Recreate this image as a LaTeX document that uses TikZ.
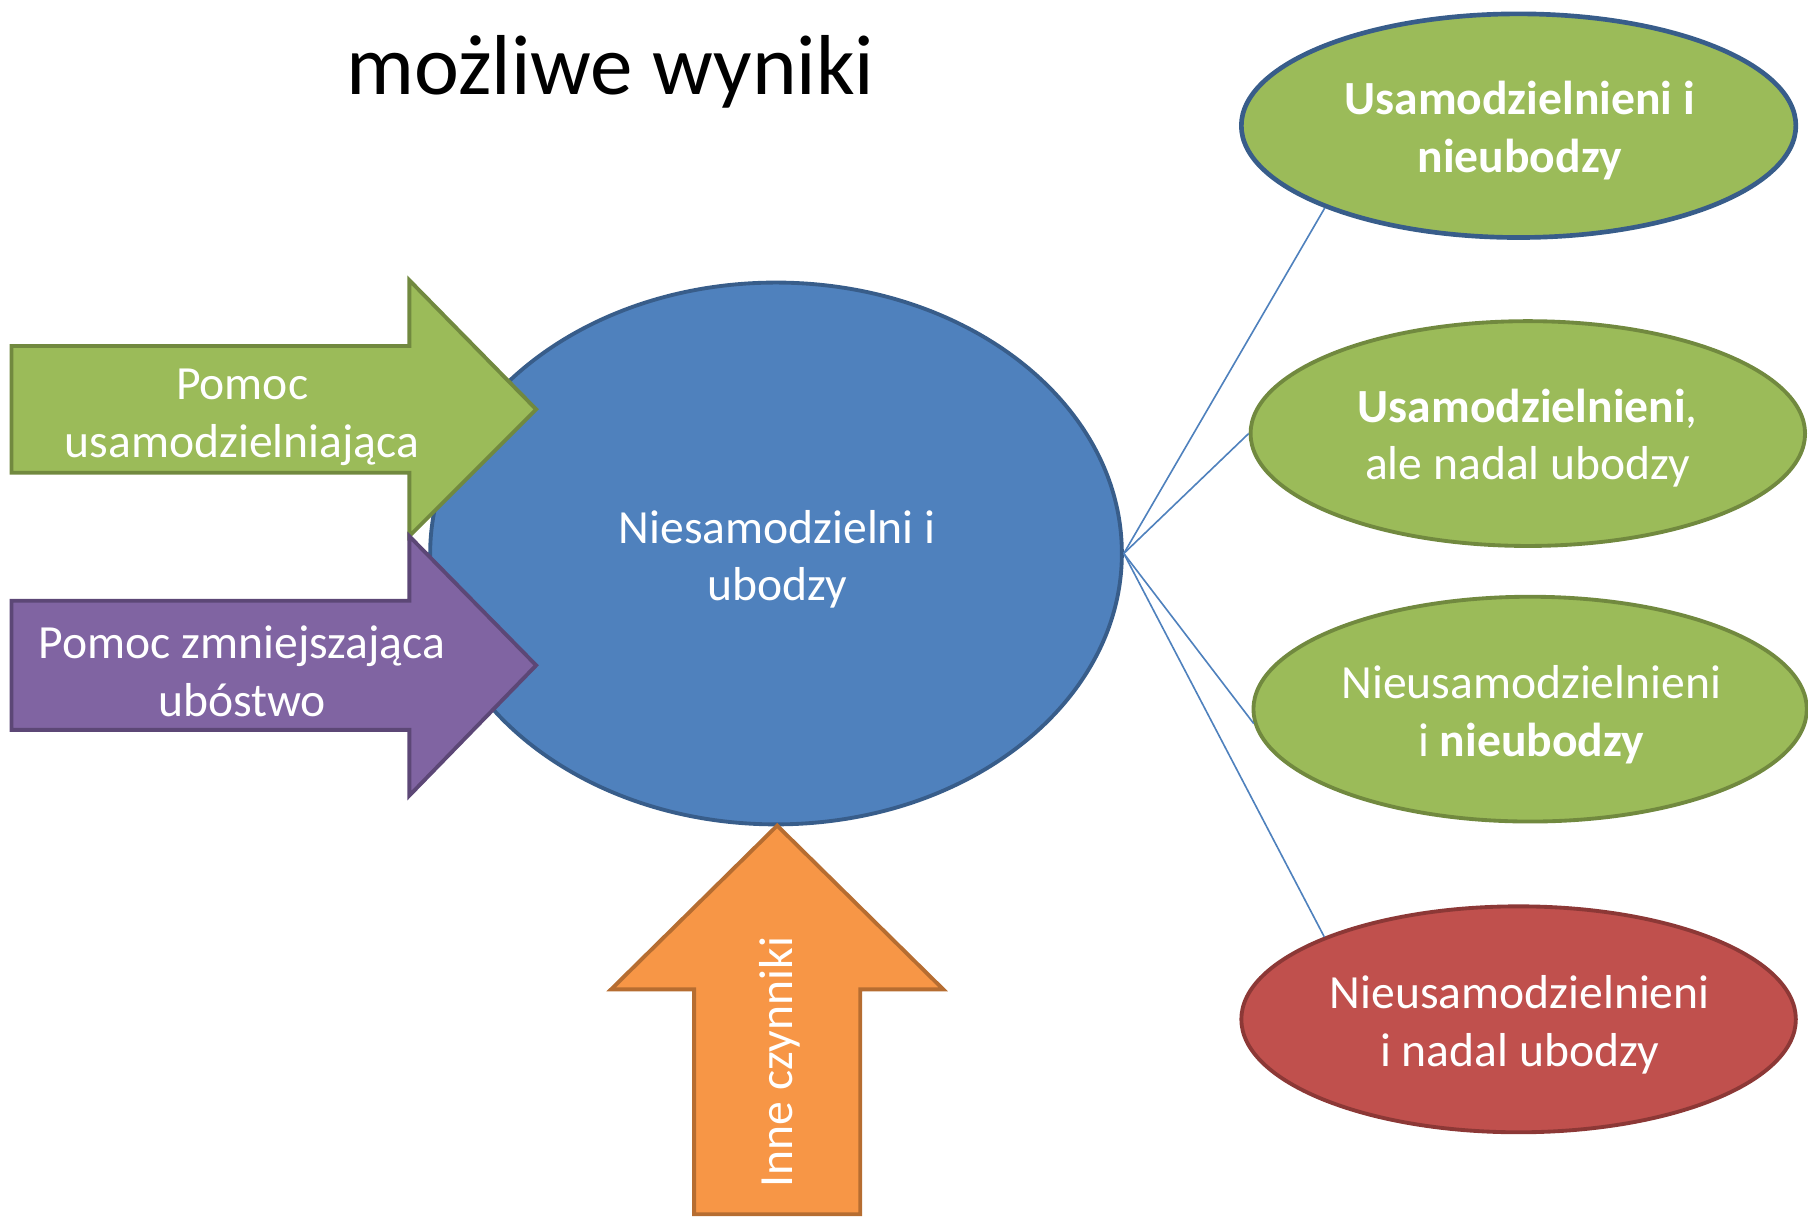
\documentclass[tikz,border=0pt]{standalone}
\usepackage{fontspec}
\setmainfont{Carlito}
\usetikzlibrary{shapes.geometric}
\definecolor{gfill}{HTML}{9BBB59}
\definecolor{gline}{HTML}{71893F}
\definecolor{bfill}{HTML}{4F81BD}
\definecolor{bline}{HTML}{385D8A}
\definecolor{pfill}{HTML}{8064A2}
\definecolor{pline}{HTML}{5C4776}
\definecolor{ofill}{HTML}{F79646}
\definecolor{oline}{HTML}{B66D31}
\definecolor{rfill}{HTML}{C0504D}
\definecolor{rline}{HTML}{8C3836}
\tikzset{
  bodytext/.style={text=white, align=center, font=\fontsize{23.5}{28.5}\selectfont, inner sep=0pt},
  oval/.style={ellipse, draw, line width=1.9pt, inner sep=0pt},
  arrowshape/.style={line width=1.9pt, line join=miter},
  link/.style={draw=bfill, line width=0.8pt}
}
\begin{document}
\begin{tikzpicture}[x=0.02cm, y=-0.02cm]
\useasboundingbox (0,0) rectangle (1568,1055);
% title
\node[anchor=base west, inner sep=0pt, font=\fontsize{42}{50}\selectfont] (title) at (300,82) {możliwe wyniki};
% central ellipse
\node[oval, fill=bfill, draw=bline, minimum width=12cm, minimum height=9.4cm] (c) at (673,480) {};
\node[bodytext] (ctext) at (674,485) {Niesamodzielni i\\ubodzy};
% outcome ellipses
\node[oval, fill=gfill, draw=bline, line width=2.3pt, minimum width=9.62cm, minimum height=3.88cm] (e1) at (1317,109) {};
\node[bodytext] (e1t) at (1318,113) {\textbf{Usamodzielnieni i}\\\textbf{nieubodzy}};
\node[oval, fill=gfill, draw=gline, minimum width=9.62cm, minimum height=3.9cm] (e2) at (1325,376) {};
\node[bodytext] (e2t) at (1325,380) {\textbf{Usamodzielnieni},\\ale nadal ubodzy};
\node[oval, fill=gfill, draw=gline, minimum width=9.6cm, minimum height=3.9cm] (e3) at (1327,615) {};
\node[bodytext] (e3t) at (1328,620) {Nieusamodzielnieni\\i \textbf{nieubodzy}};
\node[oval, fill=rfill, draw=rline, minimum width=9.62cm, minimum height=3.92cm] (e4) at (1317,884) {};
\node[bodytext] (e4t) at (1318,889) {Nieusamodzielnieni\\i nadal ubodzy};
% connectors
\draw[link] (c.east) -- (e1.203);
\draw[link] (c.east) -- (e2.west);
\draw[link] (c.east) -- (e3.183);
\draw[link] (c.east) -- (e4.157);
% green arrow
\draw[arrowshape, fill=gfill, draw=gline] (10,300) -- (355,300) -- (355,243) -- (465,355) -- (355,465) -- (355,410) -- (10,410) -- cycle;
\node[bodytext] (g) at (210,362) {Pomoc\\usamodzielniająca};
% purple arrow
\draw[arrowshape, fill=pfill, draw=pline] (10,521) -- (355,521) -- (355,465) -- (465,577) -- (355,690) -- (355,633) -- (10,633) -- cycle;
\node[bodytext] (p) at (210,582) {Pomoc zmniejszająca\\ubóstwo};
% orange arrow
\draw[arrowshape, fill=ofill, draw=oline] (602,1053) -- (602,858) -- (530,858) -- (674,716) -- (818,858) -- (746,858) -- (746,1053) -- cycle;
\node[bodytext, rotate=90] (o) at (676,921) {Inne czynniki};
\end{tikzpicture}
\end{document}
